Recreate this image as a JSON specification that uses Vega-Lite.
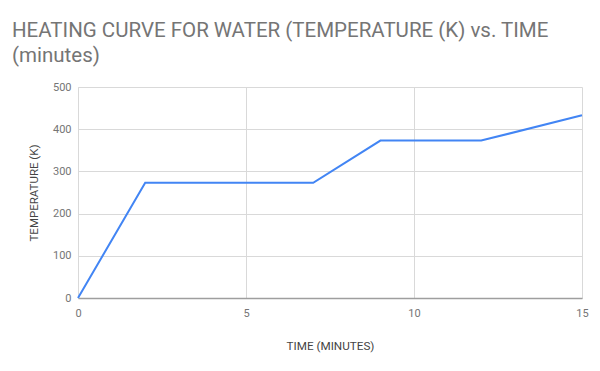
{
  "$schema": "https://vega.github.io/schema/vega-lite/v6.json",
  "width": 504,
  "height": 211,
  "autosize": {"type": "none"},
  "padding": {"left": 78, "top": 87, "right": 18, "bottom": 73},
  "background": "white",
  "title": {
    "text": ["HEATING CURVE FOR WATER (TEMPERATURE (K) vs. TIME", "(minutes)"],
    "anchor": "start",
    "frame": "group",
    "dx": -66,
    "font": "Roboto",
    "fontSize": 20.5,
    "fontWeight": "normal",
    "color": "#757575",
    "lineHeight": 25,
    "offset": 15
  },
  "data": {
    "values": [
      {"time": 0, "temp": 0},
      {"time": 2, "temp": 273},
      {"time": 7, "temp": 273},
      {"time": 9, "temp": 373},
      {"time": 12, "temp": 373},
      {"time": 15, "temp": 433}
    ]
  },
  "mark": {"type": "line", "color": "#4285F4", "strokeWidth": 2},
  "encoding": {
    "x": {
      "field": "time",
      "type": "quantitative",
      "scale": {"domain": [0, 15], "nice": false},
      "axis": {
        "title": "TIME (MINUTES)",
        "values": [0, 5, 10, 15],
        "ticks": false,
        "labelFlush": false,
        "labelPadding": 9,
        "titlePadding": 22,
        "domainColor": "#9e9e9e",
        "domainWidth": 1.5,
        "gridColor": "#d9d9d9",
        "labelFont": "Roboto",
        "labelFontSize": 11,
        "labelColor": "#757575",
        "titleFont": "Roboto",
        "titleFontSize": 11.7,
        "titleFontWeight": "normal",
        "titleColor": "#444444"
      }
    },
    "y": {
      "field": "temp",
      "type": "quantitative",
      "scale": {"domain": [0, 500], "nice": false},
      "axis": {
        "title": "TEMPERATURE (K)",
        "values": [0, 100, 200, 300, 400, 500],
        "ticks": false,
        "labelFlush": false,
        "labelPadding": 7,
        "titlePadding": 13,
        "domainColor": "#d9d9d9",
        "gridColor": "#d9d9d9",
        "labelFont": "Roboto",
        "labelFontSize": 11,
        "labelColor": "#757575",
        "titleFont": "Roboto",
        "titleFontSize": 11.5,
        "titleFontWeight": "normal",
        "titleColor": "#444444"
      }
    }
  },
  "config": {"view": {"stroke": null}}
}
